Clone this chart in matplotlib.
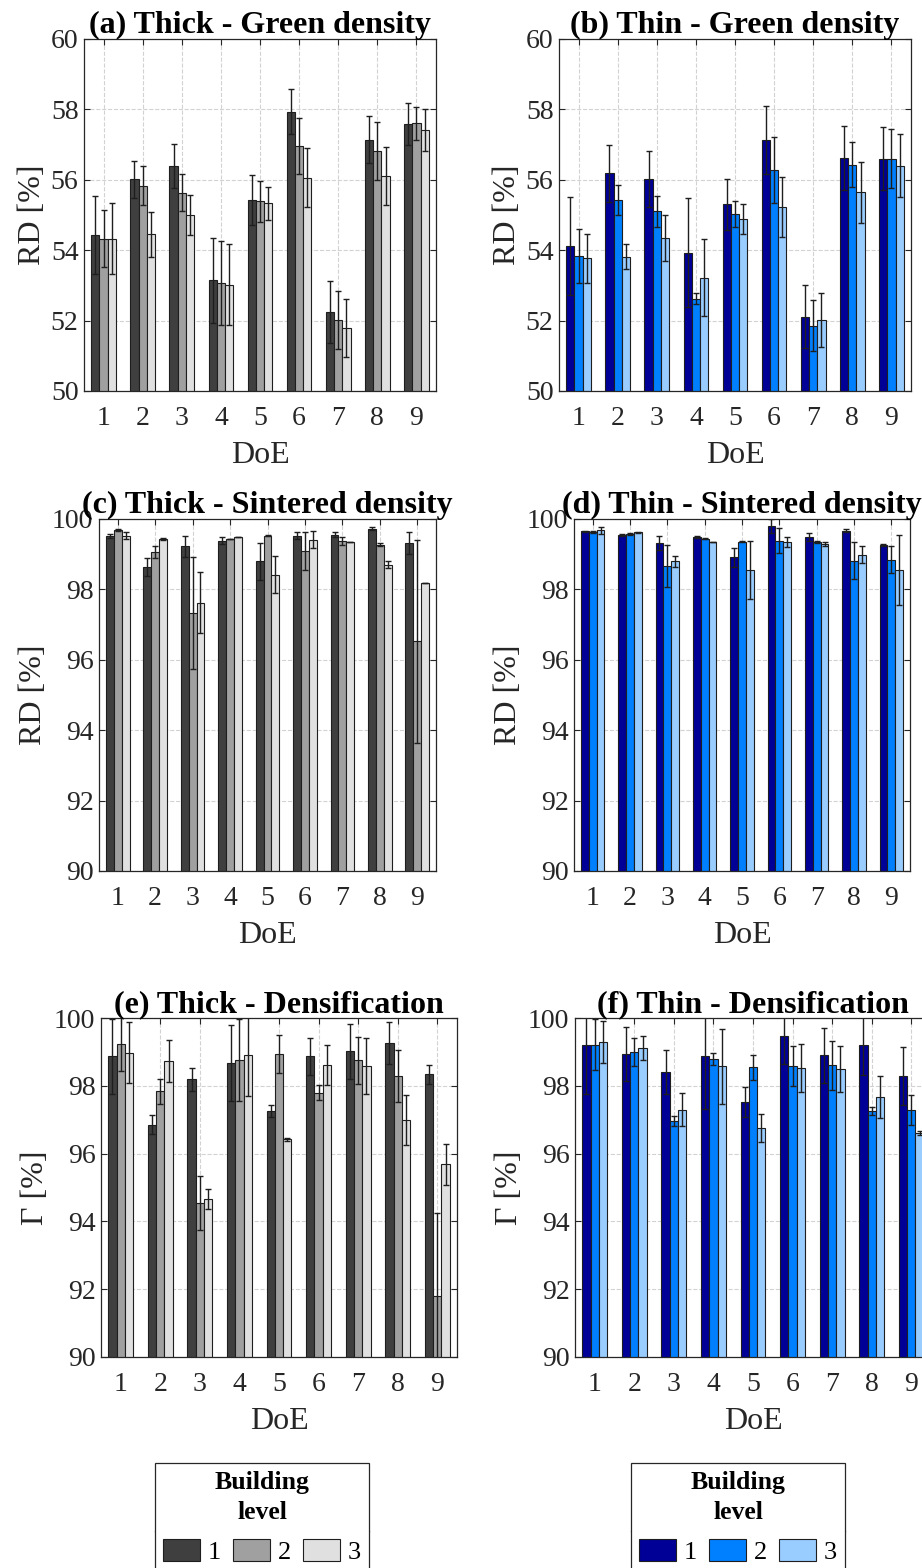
import matplotlib
matplotlib.use('Agg')
import matplotlib.pyplot as plt
import numpy as np
from matplotlib.patches import Patch
from matplotlib.lines import Line2D

plt.rcParams['font.family'] = ['Liberation Serif', 'DejaVu Serif']

W, H = 922, 1568

# --- データ ---
doe = np.arange(1, 10)
levels = ['1', '2', '3']

# (a) Thick - Green density  [level1, level2, level3]
thick_green = [
    [54.43, 56.01, 56.39, 53.15, 55.43, 57.94, 52.24, 57.14, 57.59],
    [54.33, 55.83, 55.63, 53.07, 55.39, 56.96, 52.01, 56.82, 57.60],
    [54.33, 54.45, 55.00, 53.02, 55.33, 56.06, 51.80, 56.11, 57.41],
]
thick_green_err = [
    [1.12, 0.53, 0.63, 1.21, 0.71, 0.64, 0.88, 0.66, 0.59],
    [0.80, 0.55, 0.53, 1.20, 0.58, 0.80, 0.82, 0.82, 0.47],
    [1.00, 0.63, 0.56, 1.15, 0.46, 0.84, 0.82, 0.82, 0.60],
]

# (b) Thin - Green density
thin_green = [
    [54.12, 56.18, 56.03, 53.93, 55.30, 57.14, 52.11, 56.62, 56.60],
    [53.84, 55.43, 55.10, 52.62, 55.03, 56.28, 51.86, 56.43, 56.60],
    [53.77, 53.82, 54.34, 53.22, 54.89, 55.22, 52.02, 55.64, 56.40],
]
thin_green_err = [
    [1.38, 0.80, 0.80, 1.55, 0.73, 0.97, 0.90, 0.90, 0.90],
    [0.76, 0.43, 0.45, 0.16, 0.38, 0.93, 0.73, 0.63, 0.84],
    [0.69, 0.35, 0.66, 1.10, 0.42, 0.85, 0.76, 0.86, 0.90],
]

# (c) Thick - Sintered density
thick_sint = [
    [99.51, 98.63, 99.22, 99.38, 98.80, 99.53, 99.55, 99.72, 99.32],
    [99.70, 99.06, 97.33, 99.43, 99.53, 99.08, 99.38, 99.27, 96.52],
    [99.53, 99.43, 97.62, 99.49, 98.42, 99.41, 99.35, 98.70, 98.18],
]
thick_sint_err = [
    [0.05, 0.25, 0.31, 0.10, 0.52, 0.10, 0.07, 0.04, 0.31],
    [0.03, 0.18, 1.59, 0.01, 0.02, 0.54, 0.12, 0.05, 2.88],
    [0.10, 0.02, 0.87, 0.01, 0.52, 0.24, 0.01, 0.10, 0.01],
]

# (d) Thin - Sintered density
thin_sint = [
    [99.65, 99.55, 99.32, 99.49, 98.91, 99.79, 99.49, 99.67, 99.27],
    [99.63, 99.57, 98.66, 99.44, 99.36, 99.38, 99.35, 98.82, 98.84],
    [99.68, 99.62, 98.80, 99.35, 98.56, 99.35, 99.29, 98.99, 98.56],
]
thin_sint_err = [
    [0.02, 0.02, 0.19, 0.03, 0.28, 0.20, 0.11, 0.04, 0.03],
    [0.02, 0.02, 0.60, 0.02, 0.02, 0.36, 0.02, 0.52, 0.38],
    [0.10, 0.02, 0.16, 0.01, 0.82, 0.14, 0.07, 0.25, 0.99],
]

# (e) Thick - Densification
thick_dens = [
    [98.87, 96.85, 98.19, 98.68, 97.26, 98.87, 99.02, 99.26, 98.34],
    [99.24, 97.84, 94.55, 98.75, 98.93, 97.79, 98.75, 98.30, 91.79],
    [98.98, 98.72, 94.67, 98.92, 96.42, 98.62, 98.58, 97.00, 95.68],
]
thick_dens_err = [
    [1.10, 0.28, 0.34, 1.12, 0.18, 0.55, 0.81, 0.62, 0.28],
    [0.79, 0.37, 0.79, 1.21, 0.56, 0.22, 0.69, 0.77, 2.47],
    [0.90, 0.62, 0.30, 1.21, 0.04, 0.59, 0.83, 0.74, 0.61],
]

# (f) Thin - Densification
thin_dens = [
    [99.21, 98.93, 98.41, 98.87, 97.52, 99.47, 98.90, 99.19, 98.29],
    [99.21, 99.00, 96.96, 98.80, 98.55, 98.57, 98.60, 97.25, 97.28],
    [99.29, 99.12, 97.30, 98.57, 96.76, 98.53, 98.50, 97.67, 96.61],
]
thin_dens_err = [
    [1.44, 0.79, 0.64, 1.56, 0.44, 0.82, 0.81, 0.88, 0.85],
    [0.75, 0.41, 0.14, 0.18, 0.37, 0.59, 0.72, 0.12, 0.44],
    [0.62, 0.35, 0.50, 1.12, 0.42, 0.71, 0.68, 0.63, 0.05],
]

gray_colors = ['#3f3f3f', '#a0a0a0', '#e0e0e0']
blue_colors = ['#000096', '#0080ff', '#99ccff']

EDGE = '#1e1e1e'
AXC = '#262626'


def px_rect(left, top, right, bottom):
    return [left / W, 1 - bottom / H, (right - left) / W, (bottom - top) / H]


panels = [
    ('(a) Thick - Green density', thick_green, thick_green_err, gray_colors, (50, 60), 'RD [%]', (84, 39, 436, 391)),
    ('(b) Thin - Green density', thin_green, thin_green_err, blue_colors, (50, 60), 'RD [%]', (559, 39, 911, 391)),
    ('(c) Thick - Sintered density', thick_sint, thick_sint_err, gray_colors, (90, 100), 'RD [%]', (99, 519, 436, 871)),
    ('(d) Thin - Sintered density', thin_sint, thin_sint_err, blue_colors, (90, 100), 'RD [%]', (574, 519, 910, 871)),
    ('(e) Thick - Densification', thick_dens, thick_dens_err, gray_colors, (90, 100), 'Γ [%]', (101, 1018, 457, 1357)),
    ('(f) Thin - Densification', thin_dens, thin_dens_err, blue_colors, (90, 100), 'Γ [%]', (575, 1018, 931, 1357)),
]

fig = plt.figure(figsize=(W / 100, H / 100), dpi=100)
fig.patch.set_facecolor('white')

bw = 0.21
for title, vals, errs, colors, ylim, ylabel, rect in panels:
    ax = fig.add_axes(px_rect(*rect))
    for i in range(3):
        ax.bar(doe + (i - 1) * bw, vals[i], bw, yerr=errs[i], color=colors[i],
               edgecolor=EDGE, linewidth=0.8,
               error_kw=dict(ecolor=EDGE, elinewidth=1.0, capsize=2.3, capthick=1.0))
    ax.set_xlim(0.5, 9.5)
    ax.set_ylim(*ylim)
    ax.set_xticks(doe)
    ax.set_yticks(np.arange(ylim[0], ylim[1] + 1, 2))
    ax.grid(True, ls='--', color='#d2d2d2', lw=0.8)
    ax.set_axisbelow(True)
    ax.tick_params(direction='in', top=True, right=True, length=4, width=0.8,
                   labelsize=20, colors=AXC)
    ax.tick_params(axis='x', pad=11)
    ax.tick_params(axis='y', pad=4)
    for s in ax.spines.values():
        s.set_color(AXC)
        s.set_linewidth(0.9)
    ax.set_title(title, fontsize=23, fontweight='bold', pad=4, color='black')
    ax.set_xlabel('DoE', fontsize=23, labelpad=7, color=AXC)
    ax.set_ylabel(ylabel, fontsize=23, labelpad=3, color=AXC)


# --- 凡例 ---
def add_legend(colors, cx):
    handles = [Patch(facecolor=c, edgecolor=EDGE, linewidth=0.8) for c in colors]
    leg = fig.legend(handles, levels, loc='upper center',
                     bbox_to_anchor=(cx / W, 1 - 1463 / H), ncol=3,
                     title='Building\nlevel',
                     title_fontproperties={'weight': 'bold', 'size': 18.5},
                     fontsize=19, frameon=True, fancybox=False,
                     edgecolor=AXC, framealpha=1, borderpad=0.3,
                     handlelength=1.4, handleheight=0.9, handletextpad=0.3,
                     columnspacing=0.45, borderaxespad=0, labelspacing=0.55)
    leg.get_frame().set_linewidth(0.9)
    leg.get_title().set_multialignment('center')
    leg.get_title().set_linespacing(1.4)
    return leg


legs = [add_legend(gray_colors, 262), add_legend(blue_colors, 738)]
fig.canvas.draw()
renderer = fig.canvas.get_renderer()
for leg in legs:
    tb = leg.get_title().get_window_extent(renderer)
    pb = leg.get_patches()[0].get_window_extent(renderer)
    fb = leg.get_frame().get_window_extent(renderer)
    y = (tb.y0 + pb.y1) / 2
    fig.add_artist(Line2D([fb.x0, fb.x1], [y, y], transform=None, color=AXC, lw=0.9))

fig.savefig('out.png', dpi=100, facecolor='white')
